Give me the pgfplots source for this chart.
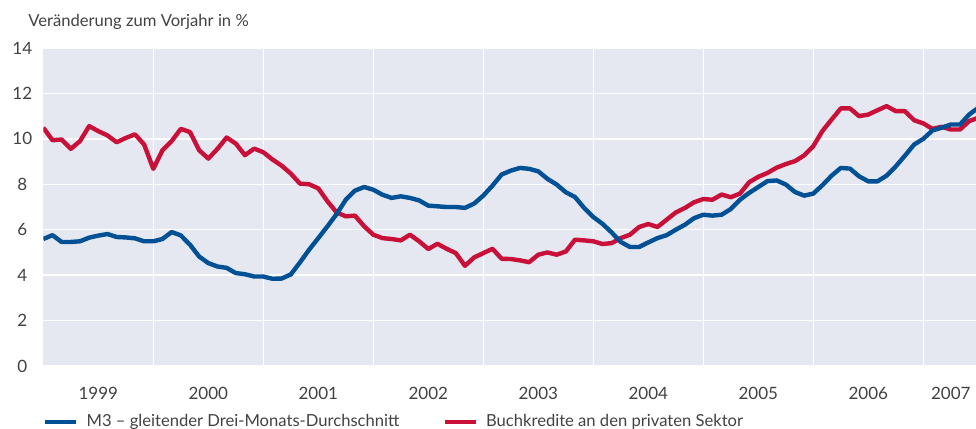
\documentclass[border=0pt]{standalone}
\usepackage{fontspec}
\setmainfont{Lato}
\usepackage{pgfplots}
\pgfplotsset{compat=1.18}
\usepackage{pgfplotstable}
\definecolor{bg}{RGB}{229,231,241}
\definecolor{mblue}{RGB}{0,80,150}
\definecolor{mred}{RGB}{200,16,56}
\definecolor{txt}{RGB}{66,66,66}

\pgfplotstableread{
i m3 kred
0 5.59 10.49
1 5.76 9.94
2 5.46 9.97
3 5.46 9.56
4 5.49 9.90
5 5.65 10.56
6 5.74 10.34
7 5.81 10.15
8 5.68 9.85
9 5.66 10.04
10 5.62 10.20
11 5.49 9.75
12 5.49 8.68
13 5.59 9.50
14 5.90 9.90
15 5.75 10.44
16 5.34 10.30
17 4.82 9.50
18 4.53 9.13
19 4.38 9.56
20 4.32 10.06
21 4.09 9.79
22 4.04 9.28
23 3.94 9.57
24 3.94 9.41
25 3.84 9.09
26 3.85 8.82
27 4.03 8.47
28 4.56 8.03
29 5.12 8.00
30 5.63 7.82
31 6.15 7.25
32 6.69 6.76
33 7.32 6.59
34 7.72 6.62
35 7.88 6.15
36 7.76 5.78
37 7.54 5.63
38 7.40 5.59
39 7.47 5.53
40 7.40 5.78
41 7.29 5.49
42 7.06 5.15
43 7.03 5.38
44 7.00 5.16
45 7.00 4.97
46 6.96 4.41
47 7.15 4.78
48 7.50 4.97
49 7.94 5.16
50 8.43 4.72
51 8.60 4.71
52 8.72 4.65
53 8.68 4.57
54 8.57 4.90
55 8.24 5.00
56 7.99 4.90
57 7.65 5.04
58 7.44 5.56
59 6.96 5.53
60 6.56 5.49
61 6.26 5.37
62 5.88 5.41
63 5.46 5.63
64 5.24 5.78
65 5.24 6.12
66 5.44 6.25
67 5.63 6.12
68 5.76 6.44
69 6.00 6.76
70 6.22 6.96
71 6.51 7.21
72 6.66 7.35
73 6.62 7.32
74 6.66 7.55
75 6.91 7.43
76 7.32 7.59
77 7.62 8.09
78 7.88 8.33
79 8.14 8.50
80 8.17 8.73
81 7.99 8.89
82 7.66 9.02
83 7.50 9.27
84 7.59 9.68
85 7.96 10.35
86 8.38 10.85
87 8.72 11.34
88 8.69 11.34
89 8.35 11.00
90 8.13 11.07
91 8.13 11.26
92 8.38 11.44
93 8.79 11.22
94 9.26 11.22
95 9.75 10.82
96 10.00 10.68
97 10.37 10.44
98 10.49 10.53
99 10.63 10.41
100 10.63 10.41
101 11.07 10.78
102 11.37 10.93
}\data

\begin{document}
\begin{tikzpicture}
\begin{axis}[name=ax, at={(0,0)}, anchor=south west,
  scale only axis, width=466.35pt, height=159pt,
  xmin=0, xmax=101.75, ymin=0, ymax=14,
  axis background/.style={fill=bg},
  axis line style={draw=none},
  major tick length=0pt, minor tick length=0pt,
  xtick={6,18,30,42,54,66,78,90,99},
  xticklabels={1999,2000,2001,2002,2003,2004,2005,2006,2007},
  minor xtick={12,24,36,48,60,72,84,96},
  xminorgrids,
  ytick={0,2,4,6,8,10,12,14}, ymajorgrids,
  grid style={white, line width=0.75pt},
  minor grid style={white, line width=0.75pt},
  tick label style={font=\fontsize{8.5}{10}\selectfont, text=txt},
  yticklabel style={anchor=center, xshift=-10.5pt},
  xticklabel style={anchor=base, yshift=-16.5pt},
  /pgf/number format/assume math mode=true,
  legend columns=2,
  legend cell align=left,
  legend style={at={(0,-0.176)}, anchor=west, draw=none, fill=none,
    inner sep=0pt, outer sep=0pt,
    font=\fontsize{8.3}{10}\selectfont, text=txt,
    nodes={inner sep=0pt},
    /tikz/column 1/.style={column sep=4pt},
    /tikz/column 2/.style={column sep=8pt},
    /tikz/column 3/.style={column sep=4pt}},
  legend image code/.code={\draw[line width=2.2pt] (0pt,0pt) -- (15.5pt,0pt);},
]
\addlegendimage{mblue}
\addlegendentry{\makebox[170pt][l]{M3 – gleitender Drei-Monats-Durchschnitt}}
\addlegendimage{mred}
\addlegendentry{Buchkredite an den privaten Sektor}
\addplot[mred, line width=2.2pt, line join=round, forget plot] table[x=i, y=kred] {\data};
\addplot[mblue, line width=2.2pt, line join=round, forget plot] table[x=i, y=m3] {\data};
\end{axis}
\node[anchor=base west, inner sep=0pt, font=\fontsize{8.3}{10}\selectfont, text=txt]
  at ([xshift=-7.65pt, yshift=10.65pt]ax.north west) {Veränderung zum Vorjahr in \%};
\pgfresetboundingbox
\path[use as bounding box] ([xshift=-21.65pt, yshift=-31.5pt]ax.south west) rectangle ([yshift=24pt]ax.north east);
\end{tikzpicture}
\end{document}
